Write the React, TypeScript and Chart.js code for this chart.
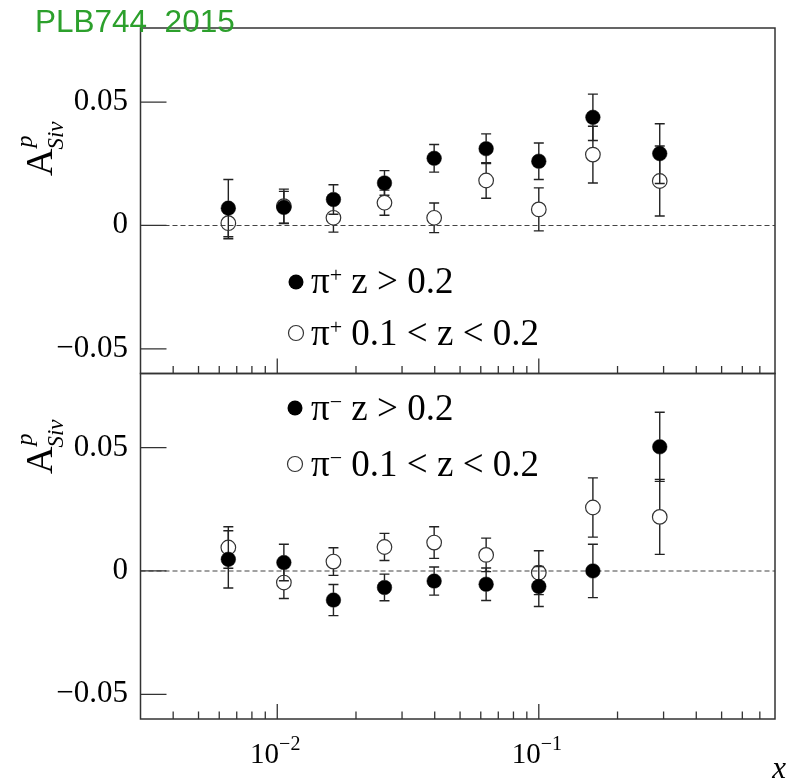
import React, { useEffect, useRef } from "react";
import { Chart, registerables } from "chart.js";

Chart.register(...registerables);

// ---------- data ----------
const X_BINS = [0.0065, 0.0106, 0.0164, 0.0257, 0.0398, 0.0629, 0.1, 0.161, 0.29];

const PIP_HIGH = [0.007, 0.0073, 0.0105, 0.0172, 0.0272, 0.0311, 0.026, 0.0438, 0.0291];
const PIP_HIGH_ERR = [0.0116, 0.0065, 0.006, 0.005, 0.0056, 0.006, 0.0074, 0.0094, 0.0121];
const PIP_LOW = [0.0009, 0.0078, 0.0031, 0.0092, 0.0031, 0.0182, 0.0065, 0.0287, 0.018];
const PIP_LOW_ERR = [0.0063, 0.0069, 0.0058, 0.0051, 0.006, 0.0072, 0.0087, 0.0115, 0.0142];

const PIM_HIGH = [0.0047, 0.0034, -0.0118, -0.0067, -0.0041, -0.0054, -0.0063, 0.0, 0.0503];
const PIM_HIGH_ERR = [0.0116, 0.0074, 0.0063, 0.0054, 0.0057, 0.0066, 0.0081, 0.0108, 0.014];
const PIM_LOW = [0.0095, -0.0047, 0.0038, 0.0097, 0.0115, 0.0065, -0.0007, 0.0257, 0.0219];
const PIM_LOW_ERR = [0.0084, 0.0065, 0.0056, 0.0055, 0.0064, 0.0068, 0.0089, 0.012, 0.0152];

const X_MIN = 0.003;
const X_MAX = 0.8;
const Y_MIN = -0.06;
const Y_MAX = 0.08;

const Y_TICKS = [-0.05, 0, 0.05];
const Y_TICK_LABELS = ["\u22120.05", "0", "0.05"];
const X_MAJOR = [0.01, 0.1];
const X_MAJOR_EXP = ["\u22122", "\u22121"];
const X_MINOR = [
  0.004, 0.005, 0.006, 0.007, 0.008, 0.009,
  0.02, 0.03, 0.04, 0.05, 0.06, 0.07, 0.08, 0.09,
  0.2, 0.3, 0.4, 0.5, 0.6, 0.7,
];

const TITLE_TEXT = "PLB744_2015";
const LEG_TOP = ["+", "+"];
const LEG_BOT = ["\u2212", "\u2212"];
const LEG_HIGH = " z > 0.2";
const LEG_LOW = " 0.1 < z < 0.2";

const SERIF = "'Liberation Serif', 'DejaVu Serif', serif";
const SANS = "'Liberation Sans', Arial, sans-serif";
const INK = "#222";
const MARKER_R = 7.3;

type Part = { t: string; s: number; rise?: number; italic?: boolean };

function drawParts(ctx: CanvasRenderingContext2D, x: number, y: number, parts: Part[], align: string) {
  ctx.textAlign = "left";
  ctx.textBaseline = "alphabetic";
  const widths = parts.map((p) => {
    ctx.font = `${p.italic ? "italic " : ""}${p.s}px ${SERIF}`;
    return ctx.measureText(p.t).width;
  });
  const total = widths.reduce((a, b) => a + b, 0);
  let cx = align === "center" ? x - total / 2 : align === "right" ? x - total : x;
  parts.forEach((p, i) => {
    ctx.font = `${p.italic ? "italic " : ""}${p.s}px ${SERIF}`;
    ctx.fillText(p.t, cx, y - (p.rise || 0));
    cx += widths[i];
  });
}

type PanelCfg = {
  offsetY: number;
  showXLabels: boolean;
  showTitle: boolean;
  axisTitleAt: [number, number];
  legend: { filled: boolean; mx: number; my: number; base: number; sup: string; text: string }[];
  errors: number[][];
};

function panelPlugin(cfg: PanelCfg) {
  return {
    id: "panelDecor",
    beforeDatasetsDraw(chart: any) {
      const ctx: CanvasRenderingContext2D = chart.ctx;
      const { left, right } = chart.chartArea;
      const ys = chart.scales.y;
      const y0 = ys.getPixelForValue(0);
      ctx.save();
      ctx.strokeStyle = "#444";
      ctx.lineWidth = 1.1;
      ctx.setLineDash([5, 3]);
      ctx.beginPath();
      ctx.moveTo(left, y0);
      ctx.lineTo(right, y0);
      ctx.stroke();
      ctx.setLineDash([]);
      // error bars
      ctx.strokeStyle = INK;
      ctx.lineWidth = 1.4;
      chart.data.datasets.forEach((ds: any, di: number) => {
        const meta = chart.getDatasetMeta(di);
        const errs = cfg.errors[di];
        meta.data.forEach((el: any, i: number) => {
          const v = ds.data[i].y;
          const e = errs[i];
          const px = el.x;
          const py = el.y;
          const yt = ys.getPixelForValue(v + e);
          const yb = ys.getPixelForValue(v - e);
          ctx.beginPath();
          if (py - MARKER_R > yt) {
            ctx.moveTo(px, yt);
            ctx.lineTo(px, py - MARKER_R);
          }
          if (py + MARKER_R < yb) {
            ctx.moveTo(px, py + MARKER_R);
            ctx.lineTo(px, yb);
          }
          ctx.moveTo(px - 5, yt);
          ctx.lineTo(px + 5, yt);
          ctx.moveTo(px - 5, yb);
          ctx.lineTo(px + 5, yb);
          ctx.stroke();
        });
      });
      ctx.restore();
    },
    afterDraw(chart: any) {
      const ctx: CanvasRenderingContext2D = chart.ctx;
      const { left, right, top, bottom } = chart.chartArea;
      const xs = chart.scales.x;
      const ys = chart.scales.y;
      ctx.save();
      // frame
      ctx.strokeStyle = "#333";
      ctx.lineWidth = 1.5;
      ctx.strokeRect(left, top, right - left, bottom - top);
      // ticks
      ctx.lineWidth = 1.3;
      ctx.beginPath();
      Y_TICKS.forEach((v) => {
        const y = ys.getPixelForValue(v);
        ctx.moveTo(left, y);
        ctx.lineTo(left + 26, y);
      });
      X_MAJOR.forEach((v) => {
        const x = xs.getPixelForValue(v);
        ctx.moveTo(x, bottom);
        ctx.lineTo(x, bottom - 15);
      });
      X_MINOR.forEach((v) => {
        const x = xs.getPixelForValue(v);
        ctx.moveTo(x, bottom);
        ctx.lineTo(x, bottom - 7.5);
      });
      ctx.stroke();
      // y tick labels
      ctx.fillStyle = "#000";
      Y_TICKS.forEach((v, i) => {
        const y = ys.getPixelForValue(v);
        drawParts(ctx, 128, y + 8, [{ t: Y_TICK_LABELS[i], s: 31 }], "right");
      });
      // x tick labels
      if (cfg.showXLabels) {
        X_MAJOR.forEach((v, i) => {
          const x = xs.getPixelForValue(v);
          drawParts(ctx, x - 2, 763 - cfg.offsetY, [
            { t: "10", s: 29 },
            { t: X_MAJOR_EXP[i], s: 20, rise: 13 },
          ], "center");
        });
        drawParts(ctx, 786, 778 - cfg.offsetY, [{ t: "x", s: 31, italic: true }], "right");
      }
      // axis title A^p_Siv rotated
      const [tx, ty] = cfg.axisTitleAt;
      ctx.save();
      ctx.translate(tx, ty - cfg.offsetY);
      ctx.rotate(-Math.PI / 2);
      ctx.textAlign = "left";
      ctx.textBaseline = "alphabetic";
      ctx.font = `38px ${SERIF}`;
      ctx.fillText("A", 0, 0);
      const wA = ctx.measureText("A").width;
      ctx.font = `italic 24px ${SERIF}`;
      ctx.fillText("p", wA + 1, -20);
      ctx.font = `italic 23px ${SERIF}`;
      ctx.fillText("Siv", wA - 1, 11);
      ctx.restore();
      // legend
      cfg.legend.forEach((l) => {
        ctx.beginPath();
        ctx.arc(l.mx, l.my - cfg.offsetY, 7.5, 0, Math.PI * 2);
        if (l.filled) {
          ctx.fillStyle = "#000";
          ctx.fill();
        } else {
          ctx.strokeStyle = "#333";
          ctx.lineWidth = 1.2;
          ctx.stroke();
        }
        ctx.fillStyle = "#000";
        drawParts(ctx, 311, l.base - cfg.offsetY, [
          { t: "\u03c0", s: 37 },
          { t: l.sup, s: 22, rise: 11 },
          { t: l.text, s: 37 },
        ], "left");
      });
      // green title
      if (cfg.showTitle) {
        ctx.save();
        ctx.beginPath();
        ctx.rect(0, 0, 793, 34.5);
        ctx.clip();
        ctx.fillStyle = "#2ca02c";
        ctx.font = `31.5px ${SANS}`;
        ctx.textAlign = "left";
        ctx.textBaseline = "alphabetic";
        ctx.fillText(TITLE_TEXT, 35, 32.3);
        ctx.restore();
      }
      ctx.restore();
    },
  };
}

function makeDatasets(high: number[], low: number[]) {
  return [
    {
      label: "high",
      data: X_BINS.map((x, i) => ({ x, y: high[i] })),
      pointRadius: MARKER_R,
      pointBackgroundColor: "#000",
      pointBorderColor: "#000",
      pointBorderWidth: 0.5,
      showLine: false,
      order: 1,
    },
    {
      label: "low",
      data: X_BINS.map((x, i) => ({ x, y: low[i] })),
      pointRadius: MARKER_R,
      pointBackgroundColor: "rgba(0,0,0,0)",
      pointBorderColor: "#333",
      pointBorderWidth: 1.2,
      showLine: false,
      order: 2,
    },
  ];
}

function buildChart(canvas: HTMLCanvasElement, padding: any, datasets: any[], cfg: PanelCfg) {
  return new Chart(canvas, {
    type: "scatter",
    data: { datasets },
    options: {
      responsive: false,
      animation: false,
      events: [],
      layout: { padding, autoPadding: false },
      scales: {
        x: { type: "logarithmic", min: X_MIN, max: X_MAX, display: false },
        y: { type: "linear", min: Y_MIN, max: Y_MAX, display: false },
      },
      plugins: { legend: { display: false }, tooltip: { enabled: false } },
    } as any,
    plugins: [panelPlugin(cfg)],
  });
}

export default function App() {
  const topRef = useRef<HTMLCanvasElement>(null);
  const botRef = useRef<HTMLCanvasElement>(null);

  useEffect(() => {
    const topCfg: PanelCfg = {
      offsetY: 0,
      showXLabels: false,
      showTitle: true,
      axisTitleAt: [52, 176],
      legend: [
        { filled: true, mx: 296, my: 282, base: 293, sup: LEG_TOP[0], text: LEG_HIGH },
        { filled: false, mx: 296, my: 333, base: 345, sup: LEG_TOP[1], text: LEG_LOW },
      ],
      errors: [PIP_HIGH_ERR, PIP_LOW_ERR],
    };
    const botCfg: PanelCfg = {
      offsetY: 371,
      showXLabels: true,
      showTitle: false,
      axisTitleAt: [52, 474],
      legend: [
        { filled: true, mx: 295, my: 408, base: 420, sup: LEG_BOT[0], text: LEG_HIGH },
        { filled: false, mx: 295, my: 464, base: 476, sup: LEG_BOT[1], text: LEG_LOW },
      ],
      errors: [PIM_HIGH_ERR, PIM_LOW_ERR],
    };
    const c1 = buildChart(topRef.current!, { left: 140.5, right: 18, top: 28, bottom: 2.5 }, makeDatasets(PIP_HIGH, PIP_LOW), topCfg);
    const c2 = buildChart(botRef.current!, { left: 140.5, right: 18, top: 2.5, bottom: 62 }, makeDatasets(PIM_HIGH, PIM_LOW), botCfg);
    return () => {
      c1.destroy();
      c2.destroy();
    };
  }, []);

  return (
    <div style={{ position: "fixed", left: 0, top: 0, width: 793, height: 781, background: "#fff", overflow: "hidden" }}>
      <canvas ref={topRef} width={793} height={376} style={{ position: "absolute", left: 0, top: 0, width: 793, height: 376 }} />
      <canvas ref={botRef} width={793} height={410} style={{ position: "absolute", left: 0, top: 371, width: 793, height: 410 }} />
    </div>
  );
}
